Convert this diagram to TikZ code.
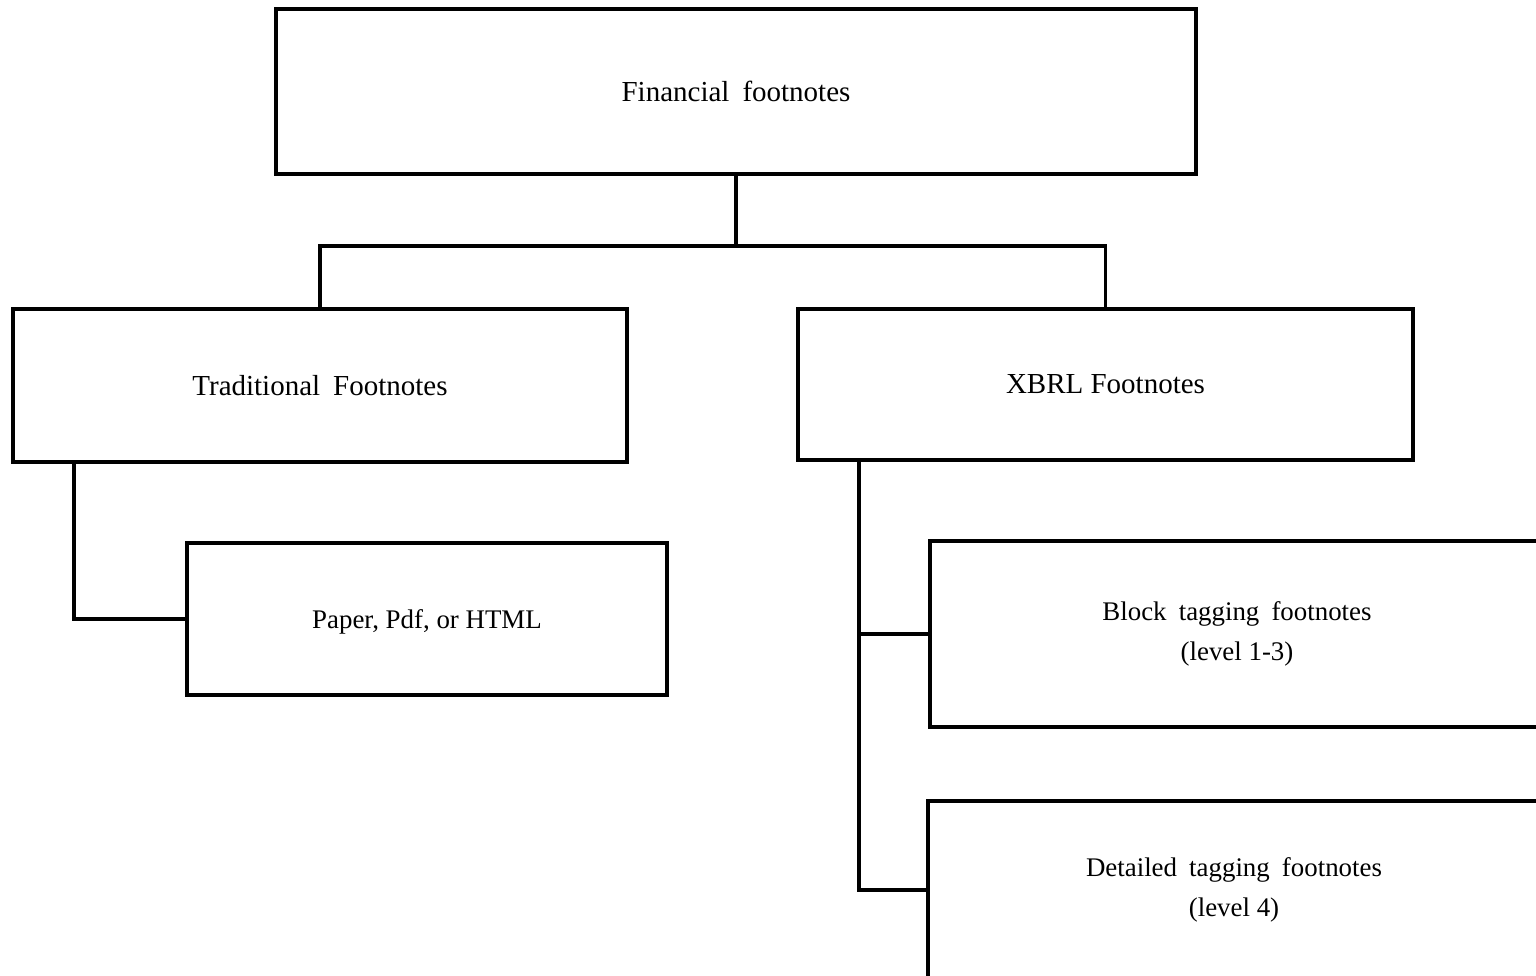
\documentclass[tikz,border=0pt]{standalone}
\usepackage{fontspec}
\setmainfont{Liberation Serif}
\usetikzlibrary{positioning}
\usetikzlibrary{calc}
\tikzstyle{box}=[rectangle,draw,line width=2.2pt,inner sep=0pt,align=center,font=\fontsize{16.5}{22}\selectfont]
\tikzstyle{subbox}=[box,font=\fontsize{15.3}{22.7}\selectfont]
\tikzstyle{link} = [draw,line width=2.2pt]
\newcommand{\gap}{\hspace{0.45em}}

\begin{document}
\begin{tikzpicture}[x=0.02cm,y=-0.02cm]

    \clip (0,0) rectangle (1536,976);

    \node[box,minimum width=920*0.02cm,minimum height=165*0.02cm] (fin) at (736,91.5) {Financial\gap footnotes};
    \node[box,minimum width=614*0.02cm,minimum height=153*0.02cm] (trad) at (320,385.5) {Traditional\gap Footnotes};
    \node[box,minimum width=615*0.02cm,minimum height=151*0.02cm] (xbrl) at (1105.5,384.5) {XBRL Footnotes};
    \node[subbox,minimum width=480*0.02cm,minimum height=152*0.02cm,text depth=-4pt] (paper) at (427,619) {Paper, Pdf, or HTML};
    \node[subbox,minimum width=614*0.02cm,minimum height=186*0.02cm] (block) at (1237,634) {Block\gap tagging\gap footnotes\\(level 1-3)};
    \node[subbox,minimum width=612*0.02cm,minimum height=178*0.02cm] (detail) at (1234,890) {Detailed\gap tagging\gap footnotes\\(level 4)};

    % tree from the top box
    \path[link] (fin.south) -- ++(0,70) coordinate (split);
    \path[link] (split) -| (trad.north);
    \path[link] (split) -| (xbrl.north);

    % side branches
    \path[link] ($(trad.south west)+(63,0)$) |- (paper.west);
    \path[link] ($(xbrl.south west)+(63,0)$) coordinate (xtrunk) |- (block.west);
    \path[link] (xtrunk) |- (detail.west);

\end{tikzpicture}
\end{document}
